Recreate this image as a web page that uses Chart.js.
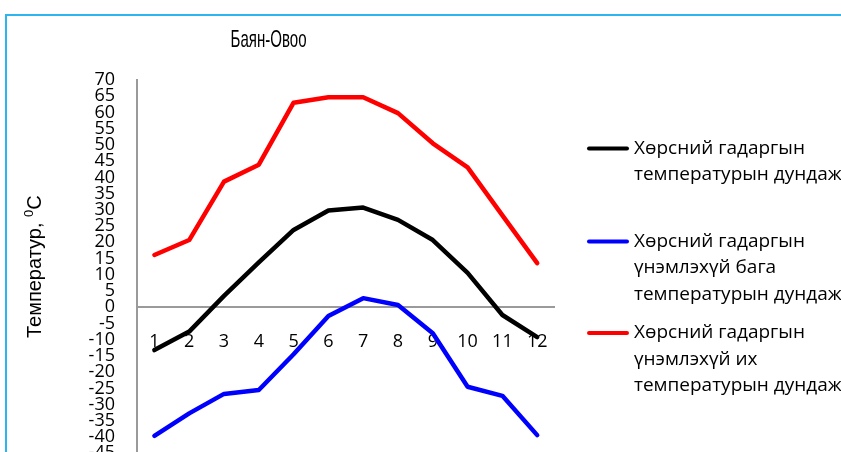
<!DOCTYPE html>
<html>
<head>
<meta charset="utf-8">
<script src="https://cdn.jsdelivr.net/npm/chart.js@4.4.1/dist/chart.umd.min.js"></script>
<style>
  html, body { margin: 0; padding: 0; background: #ffffff; overflow: hidden; width: 841px; height: 452px; }
  #wrap { position: relative; width: 841px; height: 452px; overflow: hidden; }
  #c { position: absolute; left: 0; top: 0; width: 841px; height: 470px; }
  #frame { position: absolute; left: 5px; top: 14px; right: -10px; bottom: -10px;
           border-left: 2px solid #2DB5F0; border-top: 2px solid #2DB5F0; pointer-events: none; }
</style>
</head>
<body>
<div id="wrap">
  <canvas id="c" width="841" height="470"></canvas>
  <div id="frame"></div>
</div>
<script>
// Months of the year
const months = ['1', '2', '3', '4', '5', '6', '7', '8', '9', '10', '11', '12'];

// Mean soil surface temperature, °C
const meanTemp = [-13.2, -7.5, 3.5, 13.8, 23.8, 29.8, 30.7, 26.9, 20.7, 10.6, -2.4, -9.2];
// Mean of absolute minimum soil surface temperature, °C
const absMinMean = [-39.6, -32.7, -26.7, -25.5, -14.5, -2.7, 2.8, 0.7, -8.0, -24.5, -27.3, -39.4];
// Mean of absolute maximum soil surface temperature, °C
const absMaxMean = [16.1, 20.7, 38.7, 43.9, 63.0, 64.7, 64.7, 59.8, 50.5, 43.1, 28.3, 13.6];

// Series names (wrapped lines)
const meanName = ['Хөрсний гадаргын', 'температурын дундаж'];
const minName = ['Хөрсний гадаргын', 'үнэмлэхүй бага', 'температурын дундаж'];
const maxName = ['Хөрсний гадаргын', 'үнэмлэхүй их', 'температурын дундаж'];

const chartTitle = 'Баян-Овоо';
const yTitleMain = 'Температур, ';
const yTitleSup = '0';
const yTitleUnit = 'C';

// Value axis range and step
const yMin = -45;
const yMax = 70;
const yStep = 5;

const AXIS_GRAY = '#9A9A9A';
const TEXT_FONT = '"Open Sans", "Noto Sans", sans-serif';

// Title, rotated axis title with superscript, and wrapped legend
const decorations = {
  id: 'decorations',
  afterDraw(chart) {
    const ctx = chart.ctx;
    ctx.save();
    ctx.fillStyle = '#000000';

    // chart title, set in a condensed face
    ctx.font = '24px "Liberation Sans", Arial, sans-serif';
    ctx.textAlign = 'center';
    ctx.textBaseline = 'alphabetic';
    const tw = ctx.measureText(chartTitle).width;
    ctx.save();
    ctx.translate(268.5, 47);
    ctx.scale(76 / tw, 1);
    ctx.fillText(chartTitle, 0, 0);
    ctx.restore();

    // vertical axis title
    const area = chart.chartArea;
    const mainFont = '20px "Liberation Sans", Arial, sans-serif';
    const supFont = '13px "Liberation Sans", Arial, sans-serif';
    ctx.font = mainFont;
    const w1 = ctx.measureText(yTitleMain).width;
    const w3 = ctx.measureText(yTitleUnit).width;
    ctx.font = supFont;
    const w2 = ctx.measureText(yTitleSup).width;
    const total = w1 + w2 + w3;
    ctx.save();
    ctx.translate(41, (area.top + area.bottom) / 2);
    ctx.rotate(-Math.PI / 2);
    ctx.textAlign = 'left';
    let x = -total / 2;
    ctx.font = mainFont;
    ctx.fillText(yTitleMain, x, 0);
    x += w1;
    ctx.font = supFont;
    ctx.fillText(yTitleSup, x, -8);
    x += w2;
    ctx.font = mainFont;
    ctx.fillText(yTitleUnit, x, 0);
    ctx.restore();

    // legend
    const firstLineY = [148.5, 241.5, 333];
    const lineStep = 26.5;
    ctx.font = '19px ' + TEXT_FONT;
    ctx.textAlign = 'left';
    ctx.textBaseline = 'middle';
    chart.data.datasets.forEach((ds, i) => {
      const y0 = firstLineY[i];
      ctx.strokeStyle = ds.borderColor;
      ctx.lineWidth = 4;
      ctx.lineCap = 'round';
      ctx.beginPath();
      ctx.moveTo(589, y0);
      ctx.lineTo(627, y0);
      ctx.stroke();
      ds.label.forEach((line, k) => {
        ctx.fillText(line, 634, y0 + k * lineStep);
      });
    });
    ctx.restore();
  }
};

const lineStyle = { borderWidth: 4.5, pointRadius: 0, pointHoverRadius: 0, tension: 0,
                    borderJoinStyle: 'round', borderCapStyle: 'round', fill: false };

function noEdgePadding(scale) {
  scale.paddingTop = 0;
  scale.paddingBottom = 0;
  scale.paddingLeft = 0;
  scale.paddingRight = 0;
}

new Chart(document.getElementById('c'), {
  type: 'line',
  data: {
    labels: months,
    datasets: [
      Object.assign({ label: meanName, data: meanTemp, borderColor: '#000000' }, lineStyle),
      Object.assign({ label: minName, data: absMinMean, borderColor: '#0000FF' }, lineStyle),
      Object.assign({ label: maxName, data: absMaxMean, borderColor: '#FF0000' }, lineStyle)
    ]
  },
  options: {
    responsive: false,
    animation: false,
    devicePixelRatio: 1,
    layout: { padding: { left: 87, top: 80, right: 286.4, bottom: 16.7 } },
    plugins: { legend: { display: false }, title: { display: false }, tooltip: { enabled: false } },
    scales: {
      x: {
        type: 'category',
        offset: true,
        position: { y: 0 },
        grid: { display: false, drawTicks: false },
        border: { display: true, color: AXIS_GRAY, width: 2 },
        ticks: { color: '#000000', font: { family: TEXT_FONT, size: 18 }, padding: 24,
                 autoSkip: false, maxRotation: 0 },
        afterFit: noEdgePadding
      },
      y: {
        min: yMin,
        max: yMax,
        grid: { display: false, drawTicks: false },
        border: { display: true, color: AXIS_GRAY, width: 2 },
        ticks: { stepSize: yStep, autoSkip: false, color: '#000000', padding: 22,
                 font: { family: TEXT_FONT, size: 18, lineHeight: 1 } },
        afterFit(scale) { scale.width = 50; noEdgePadding(scale); }
      }
    }
  },
  plugins: [decorations]
});
</script>
</body>
</html>
